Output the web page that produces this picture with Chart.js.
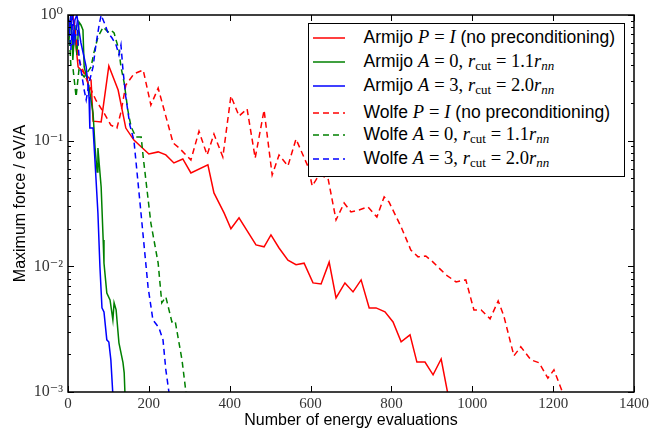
<!DOCTYPE html>
<html><head><meta charset="utf-8">
<script src="https://cdn.jsdelivr.net/npm/chart.js@4.4.0/dist/chart.umd.min.js"></script>
<style>
html,body{margin:0;padding:0;background:#fff;}
#wrap{position:relative;width:664px;height:430px;overflow:hidden;}
canvas{display:block;}
#legend{position:absolute;left:308px;top:23px;width:315px;height:152px;border:1.5px solid #000;background:#fff;font-family:"Liberation Sans",Arial,sans-serif;font-size:17.5px;color:#000;}
.row{position:absolute;left:0;height:22px;display:flex;align-items:center;white-space:nowrap;}
.row svg{margin-left:3.5px;margin-right:19px;flex:none;}
.m{font-family:"Liberation Serif",serif;font-style:italic;font-size:18.5px;}
.r{font-family:"Liberation Serif",serif;font-size:18.5px;}
sub{font-family:"Liberation Serif",serif;font-size:13px;vertical-align:-3px;line-height:0;}
sub.i{font-style:italic;}
</style></head>
<body>
<div id="wrap">
<canvas id="c" width="664" height="430"></canvas>
<div id="legend"></div>
</div>
<script>
// ---- data ----
const xTickValues = [0, 200, 400, 600, 800, 1000, 1200, 1400];
const yTickValues = [0.001, 0.01, 0.1, 1];
const yTickLabels = ['10\u207B\u00B3', '10\u207B\u00B2', '10\u207B\u00B9', '10\u2070'];

const armijoIdX = [12,25,57,62,82,101,124,143,163,200,223,242,262,284,304,346,361,386,403,423,465,485,502,522,544,564,584,606,626,646,663,685,705,725,745,762,784,804,824,846,863,883,903,923,940];
const armijoIdY = [1.0,0.386,0.304,0.143,0.141,0.393,0.253,0.126,0.101,0.0784,0.0814,0.0771,0.0665,0.0715,0.0553,0.0641,0.0384,0.0266,0.0199,0.0243,0.0148,0.0143,0.0178,0.0140,0.0112,0.0103,0.0106,0.00738,0.00724,0.0108,0.00561,0.00738,0.00626,0.0078,0.00467,0.00467,0.00434,0.00361,0.00251,0.00285,0.00173,0.00173,0.00137,0.00183,0.00095];

const armijoA0X = [2.5,7,12,17,22,27,32,37,40,52,62,67,72,74,77,82,87,89,96,104,111,114,119,126,136,139,141];
const armijoA0Y = [0.633,1.0,0.438,0.833,0.481,0.88,0.833,0.76,0.386,0.267,0.166,0.0875,0.0564,0.0875,0.0665,0.0428,0.0162,0.0106,0.00614,0.0054,0.00375,0.00512,0.0045,0.00246,0.00171,0.00142,0.00095];

const armijoA3X = [2.5,7,12,17,22,27,32,45,52,54,62,69,74,79,84,89,96,101,106,111];
const armijoA3Y = [0.76,1.0,0.577,0.912,1.0,0.76,0.599,0.386,0.223,0.126,0.126,0.0514,0.0266,0.00989,0.00467,0.00434,0.0026,0.0025,0.0018,0.00095];

const wolfeIdX = [10,27,49,69,89,106,121,131,143,163,186,205,223,260,275,304,324,344,361,383,403,423,443,463,485,505,522,544,564,594,604,621,643,663,683,700,720,742,764,782,794,824,848,866,885,903,935,960,984,1004,1022,1044,1064,1078,1103,1120,1145,1165,1187,1202,1224];
const wolfeIdY = [1.1,0.44,0.29,0.21,0.166,0.133,0.126,0.169,0.277,0.34,0.365,0.192,0.262,0.0959,0.0875,0.0702,0.119,0.0769,0.113,0.0741,0.227,0.157,0.179,0.0728,0.175,0.0533,0.0769,0.0629,0.103,0.0618,0.0436,0.0533,0.0505,0.0234,0.0319,0.0271,0.0281,0.0297,0.0247,0.0357,0.0325,0.0206,0.0135,0.0119,0.0121,0.0108,0.00855,0.00752,0.0078,0.0045,0.0045,0.00382,0.00531,0.00403,0.00194,0.00229,0.0018,0.00171,0.00129,0.0015,0.00098];

const wolfeA0X = [2.5,7,12,20,27,40,57,64,74,87,99,106,114,126,131,139,148,156,168,181,186,205,223,232,242,257,265,282,292];
const wolfeA0Y = [0.76,0.4,0.386,0.223,0.365,0.321,0.386,0.499,0.668,0.803,0.733,0.76,0.719,0.527,0.386,0.288,0.175,0.129,0.107,0.107,0.0741,0.0221,0.0106,0.00512,0.00571,0.00361,0.00368,0.0018,0.00098];

const wolfeA3X = [2.5,7,12,17,22,27,32,40,45,52,62,69,77,82,92,99,109,119,126,131,136,143,153,163,181,198,210,225,235,242,250];
const wolfeA3Y = [0.912,0.527,1.0,0.633,0.833,0.481,0.365,0.253,0.211,0.288,0.386,0.577,0.833,1.0,0.833,0.719,0.656,0.577,0.481,0.577,0.365,0.223,0.133,0.101,0.0256,0.00686,0.00375,0.00324,0.0026,0.0015,0.00098];

const seriesLabels = [
  'Armijo <span class="m">P</span> <span class="r">=</span> <span class="m">I</span> (no preconditioning)',
  'Armijo <span class="m">A</span> <span class="r">= 0,</span> <span class="m">r</span><sub>cut</sub> <span class="r">= 1.1</span><span class="m">r</span><sub class="i">nn</sub>',
  'Armijo <span class="m">A</span> <span class="r">= 3,</span> <span class="m">r</span><sub>cut</sub> <span class="r">= 2.0</span><span class="m">r</span><sub class="i">nn</sub>',
  'Wolfe <span class="m">P</span> <span class="r">=</span> <span class="m">I</span> (no preconditioning)',
  'Wolfe <span class="m">A</span> <span class="r">= 0,</span> <span class="m">r</span><sub>cut</sub> <span class="r">= 1.1</span><span class="m">r</span><sub class="i">nn</sub>',
  'Wolfe <span class="m">A</span> <span class="r">= 3,</span> <span class="m">r</span><sub>cut</sub> <span class="r">= 2.0</span><span class="m">r</span><sub class="i">nn</sub>'
];
const seriesColors = ['#ff0000','#008000','#0000ff','#ff0000','#008000','#0000ff'];
const seriesDashed = [false,false,false,true,true,true];
const seriesX = [armijoIdX, armijoA0X, armijoA3X, wolfeIdX, wolfeA0X, wolfeA3X];
const seriesY = [armijoIdY, armijoA0Y, armijoA3Y, wolfeIdY, wolfeA0Y, wolfeA3Y];
const legendRowTops = [2.5, 26.5, 50.5, 77.5, 99.5, 123.5];
const DASH = [6, 4];

const datasets = seriesX.map((xs, i) => ({
  label: seriesLabels[i],
  data: xs.map((x, j) => ({x: x, y: seriesY[i][j]})),
  borderColor: seriesColors[i],
  backgroundColor: seriesColors[i],
  borderWidth: 1.5,
  borderDash: seriesDashed[i] ? DASH : [],
  pointRadius: 0,
  tension: 0,
  fill: false,
  order: 6 - i
}));

const frameTicks = {
  id: 'frameTicks',
  afterDraw(chart) {
    const {ctx, chartArea: {left, right, top, bottom}, scales: {x, y}} = chart;
    ctx.save();
    ctx.strokeStyle = '#000';
    ctx.lineWidth = 1;
    const seg = (x1, y1, x2, y2) => { ctx.beginPath(); ctx.moveTo(x1, y1); ctx.lineTo(x2, y2); ctx.stroke(); };
    xTickValues.forEach(v => {
      const px = Math.round(x.getPixelForValue(v)) + 0.5;
      seg(px, bottom, px, bottom - 6);
      seg(px, top, px, top + 6);
    });
    yTickValues.forEach(d => {
      for (let m = 1; m <= 9; m++) {
        const v = d * m;
        if (v > 1.0000001) break;
        const py = Math.round(y.getPixelForValue(v)) + 0.5;
        const len = m === 1 ? 6 : 3;
        seg(left, py, left + len, py);
        seg(right, py, right - len, py);
      }
    });
    ctx.lineWidth = 1.5;
    ctx.strokeRect(left, top, right - left, bottom - top);
    ctx.restore();
  }
};

new Chart(document.getElementById('c'), {
  type: 'line',
  data: { datasets: datasets },
  plugins: [frameTicks],
  options: {
    responsive: false,
    animation: false,
    devicePixelRatio: 1,
    layout: { padding: { left: 0, right: 30, top: 15, bottom: 0 } },
    plugins: { legend: { display: false }, tooltip: { enabled: false } },
    scales: {
      x: {
        type: 'linear', min: 0, max: 1400, position: 'bottom',
        afterBuildTicks(s) { s.ticks = xTickValues.map(v => ({ value: v })); },
        afterFit(s) { s.height = 38; },
        ticks: { callback: v => String(v), font: { family: '"Liberation Serif", "DejaVu Serif", serif', size: 15 }, color: '#333', padding: 3, maxRotation: 0, autoSkip: false },
        grid: { display: false, drawTicks: false },
        border: { display: false },
        title: { display: true, text: 'Number of energy evaluations', font: { family: '"Liberation Sans", Arial, sans-serif', size: 16 }, color: '#000', padding: { top: 0, bottom: 0 } }
      },
      y: {
        type: 'logarithmic', min: 0.001, max: 1, position: 'left',
        afterBuildTicks(s) { s.ticks = yTickValues.map(v => ({ value: v })); },
        afterFit(s) { s.width = 68; },
        ticks: { callback: (v) => { const k = yTickValues.findIndex(t => Math.abs(t - v) < v * 1e-6); return k >= 0 ? yTickLabels[k] : ''; }, font: { family: '"Liberation Serif", "DejaVu Serif", serif', size: 16 }, color: '#333', padding: 5, autoSkip: false },
        grid: { display: false, drawTicks: false },
        border: { display: false },
        title: { display: true, text: 'Maximum force / eV/A', font: { family: '"Liberation Sans", Arial, sans-serif', size: 16 }, color: '#000', padding: { top: 11, bottom: 0 } }
      }
    }
  }
});

// legend (HTML overlay, as text)
const leg = document.getElementById('legend');
seriesLabels.forEach((lab, i) => {
  const row = document.createElement('div');
  row.className = 'row';
  row.style.top = legendRowTops[i] + 'px';
  const dash = seriesDashed[i] ? ' stroke-dasharray="' + DASH.join(',') + '"' : '';
  row.innerHTML = '<svg width="32" height="4"><line x1="0" y1="2" x2="32" y2="2" stroke="' + seriesColors[i] + '" stroke-width="1.5"' + dash + '/></svg><span>' + lab + '</span>';
  leg.appendChild(row);
});
</script>
</body></html>
